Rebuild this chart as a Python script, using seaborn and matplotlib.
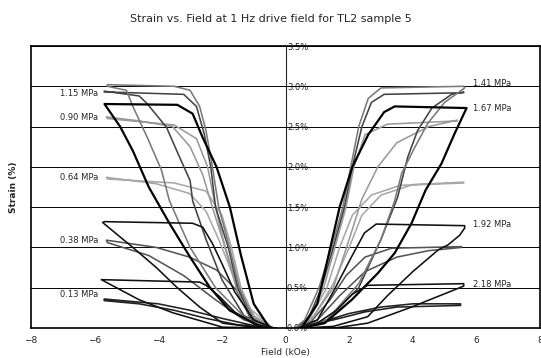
import matplotlib
matplotlib.use('Agg')
import matplotlib.pyplot as plt
import seaborn as sns
import pandas as pd
from matplotlib.ticker import FuncFormatter

# Stress levels (MPa) and the hysteresis loops.
# Each loop: rising branch from the origin to the corner, then the return branch.
stresses = ['0.13', '0.38', '0.64', '0.90', '1.15', '1.41', '1.67', '1.92', '2.18']

loop_013_left = [(-0.3, 0), (-1.5, 0.04), (-2.5, 0.12), (-3.5, 0.22), (-4.6, 0.3), (-5.7, 0.34),
                 (-5.7, 0.36), (-4.0, 0.3), (-3.0, 0.22), (-2.0, 0.12), (-1.0, 0.03), (-0.3, 0)]
loop_013_right = [(0.3, 0), (1.5, 0.1), (2.5, 0.2), (3.5, 0.26), (5.5, 0.28),
                  (5.5, 0.3), (4.0, 0.3), (3.0, 0.26), (2.0, 0.18), (1.0, 0.06), (0.3, 0)]

loop_038_left = [(-0.4, 0), (-1.3, 0.1), (-2.2, 0.35), (-3.2, 0.65), (-4.3, 0.9), (-5.6, 1.06),
                 (-5.63, 1.09), (-4.06, 1.0), (-3.02, 0.88), (-2.17, 0.72), (-1.54, 0.47),
                 (-1.13, 0.14), (-0.4, 0)]
loop_038_right = [(0.3, 0), (1.0, 0.1), (1.7, 0.4), (2.5, 0.7), (3.5, 0.88), (4.5, 0.96), (5.53, 1.0),
                  (5.53, 1.01), (3.33, 0.99), (2.5, 0.88), (1.9, 0.65), (1.4, 0.35), (0.8, 0.08), (0.3, 0)]

loop_064_left = [(-0.4, 0), (-1.0, 0.15), (-1.4, 0.5), (-1.7, 1.0), (-2.0, 1.4), (-2.5, 1.7), (-3.5, 1.8),
                 (-5.6, 1.85), (-5.63, 1.87), (-4.06, 1.79), (-3.02, 1.67), (-2.5, 1.45), (-2.1, 1.1),
                 (-1.7, 0.7), (-1.3, 0.3), (-0.4, 0)]
loop_064_right = [(0.3, 0), (0.8, 0.15), (1.3, 0.5), (1.7, 1.0), (2.1, 1.4), (2.7, 1.65), (3.6, 1.77),
                  (5.6, 1.8), (5.6, 1.81), (4.0, 1.78), (3.0, 1.65), (2.4, 1.4), (2.0, 1.0), (1.5, 0.55),
                  (0.9, 0.15), (0.3, 0)]

loop_090_left = [(-0.4, 0), (-1.1, 0.15), (-1.55, 0.5), (-1.9, 1.0), (-2.2, 1.5), (-2.45, 2.0),
                 (-2.8, 2.35), (-3.5, 2.52), (-5.6, 2.6), (-5.63, 2.62), (-4.6, 2.57), (-3.55, 2.5),
                 (-3.0, 2.25), (-2.6, 1.9), (-2.3, 1.5), (-1.9, 1.0), (-1.5, 0.5), (-1.0, 0.15), (-0.4, 0)]
loop_090_right = [(0.3, 0), (0.8, 0.15), (1.2, 0.5), (1.55, 1.0), (1.9, 1.5), (2.15, 2.0), (2.5, 2.4),
                  (3.2, 2.53), (5.4, 2.57), (5.4, 2.58), (4.5, 2.5), (3.5, 2.3), (2.9, 2.0), (2.4, 1.6),
                  (2.0, 1.1), (1.5, 0.5), (0.8, 0.1), (0.3, 0)]

loop_115_left = [(-0.4, 0), (-1.05, 0.1), (-1.5, 0.5), (-1.8, 1.0), (-2.2, 1.5), (-2.35, 2.0),
                 (-2.55, 2.4), (-2.8, 2.75), (-3.2, 2.9), (-5.7, 2.93), (-5.7, 2.94), (-4.6, 2.88),
                 (-4.34, 2.78), (-3.74, 2.49), (-3.33, 2.12), (-3.0, 1.83), (-2.92, 1.58), (-2.5, 1.1),
                 (-2.0, 0.6), (-1.3, 0.15), (-0.4, 0)]
loop_115_right = [(0.3, 0), (0.7, 0.1), (1.13, 0.5), (1.5, 1.0), (1.85, 1.5), (2.1, 2.0), (2.4, 2.5),
                  (2.7, 2.8), (3.1, 2.9), (5.6, 2.92), (5.6, 2.93), (5.22, 2.9), (4.6, 2.73), (4.15, 2.45),
                  (3.84, 2.12), (3.52, 1.62), (3.0, 1.1), (2.3, 0.5), (1.3, 0.1), (0.3, 0)]

loop_141_left = [(-0.4, 0), (-1.0, 0.1), (-1.45, 0.5), (-1.76, 1.0), (-2.1, 1.5), (-2.3, 2.0),
                 (-2.5, 2.45), (-2.7, 2.75), (-3.0, 2.95), (-3.5, 3.0), (-5.6, 3.02), (-5.6, 3.0),
                 (-5.0, 2.95), (-4.81, 2.76), (-4.34, 2.36), (-3.9, 1.96), (-3.65, 1.58), (-3.0, 1.0),
                 (-2.2, 0.5), (-1.2, 0.1), (-0.4, 0)]
loop_141_right = [(0.3, 0), (0.6, 0.1), (1.05, 0.5), (1.45, 1.0), (1.8, 1.5), (2.05, 2.0), (2.3, 2.5),
                  (2.6, 2.85), (3.0, 2.98), (5.6, 3.0), (5.63, 2.98), (5.0, 2.8), (4.47, 2.54),
                  (4.06, 2.24), (3.65, 1.92), (3.43, 1.58), (3.0, 1.1), (2.3, 0.55), (1.3, 0.1), (0.3, 0)]

loop_167_left = [(-0.5, 0), (-1.0, 0.3), (-1.4, 0.9), (-1.75, 1.5), (-2.17, 2.0), (-2.6, 2.36),
                 (-2.92, 2.66), (-3.4, 2.77), (-5.69, 2.78), (-5.2, 2.5), (-4.8, 2.2), (-4.3, 1.75),
                 (-3.65, 1.3), (-3.0, 0.88), (-2.39, 0.51), (-1.76, 0.22), (-0.8, 0.02)]
loop_167_right = [(0.5, 0), (1.0, 0.3), (1.35, 0.9), (1.7, 1.5), (2.1, 2.0), (2.6, 2.4), (3.1, 2.68),
                  (3.43, 2.75), (5.69, 2.73), (5.31, 2.41), (4.9, 2.04), (4.4, 1.71), (3.96, 1.3),
                  (3.43, 0.93), (2.9, 0.68), (2.08, 0.35), (1.23, 0.06), (0.5, 0)]

loop_192_left = [(-0.4, 0), (-1.0, 0.1), (-1.6, 0.45), (-2.0, 0.8), (-2.3, 1.05), (-2.6, 1.25),
                 (-2.92, 1.3), (-5.69, 1.32), (-5.75, 1.31), (-4.8, 1.0), (-4.06, 0.75), (-3.43, 0.51),
                 (-2.7, 0.26), (-1.98, 0.06), (-0.8, 0)]
loop_192_right = [(0.4, 0), (1.0, 0.1), (1.5, 0.45), (2.07, 0.88), (2.48, 1.18), (2.85, 1.29),
                  (5.63, 1.27), (5.63, 1.24), (5.47, 1.15), (5.1, 1.03), (4.8, 0.97), (4.0, 0.7),
                  (3.2, 0.4), (2.58, 0.14), (1.5, 0.02), (0.5, 0)]

loop_218_left = [(-0.4, 0), (-1.0, 0.05), (-1.6, 0.2), (-2.1, 0.4), (-2.5, 0.53), (-2.7, 0.57),
                 (-5.79, 0.6), (-4.6, 0.35), (-3.55, 0.19), (-1.98, 0.01), (-0.5, 0)]
loop_218_right = [(0.4, 0), (1.0, 0.06), (1.6, 0.22), (2.1, 0.42), (2.58, 0.53), (5.6, 0.55),
                  (5.6, 0.52), (3.96, 0.26), (2.58, 0.06), (1.54, 0.0), (0.4, 0)]

loops = {
    '0.13': (loop_013_left, loop_013_right),
    '0.38': (loop_038_left, loop_038_right),
    '0.64': (loop_064_left, loop_064_right),
    '0.90': (loop_090_left, loop_090_right),
    '1.15': (loop_115_left, loop_115_right),
    '1.41': (loop_141_left, loop_141_right),
    '1.67': (loop_167_left, loop_167_right),
    '1.92': (loop_192_left, loop_192_right),
    '2.18': (loop_218_left, loop_218_right),
}

# grey levels of the scanned curves
colors = {'0.13': '#222222', '0.38': '#555555', '0.64': '#a8a8a8', '0.90': '#9a9a9a',
          '1.15': '#444444', '1.41': '#7a7a7a', '1.67': '#000000', '1.92': '#111111',
          '2.18': '#111111'}
widths = {s: 1.15 for s in stresses}
widths['1.67'] = 1.6

# label anchors (strain) on the left / right side
left_labels = {'1.15': 2.91, '0.90': 2.61, '0.64': 1.87, '0.38': 1.09, '0.13': 0.41}
right_labels = {'1.41': 3.03, '1.67': 2.73, '1.92': 1.29, '2.18': 0.54}

rows = []
for s in stresses:
    for side, pts in zip(['L', 'R'], loops[s]):
        for i, (h, e) in enumerate(pts):
            rows.append({'stress': s, 'side': side, 'order': i, 'field': h, 'strain': e})
df = pd.DataFrame(rows)

sns.set_style('white')
plt.rcParams['font.family'] = ['DejaVu Sans']

fig = plt.figure(figsize=(5.41, 3.58), dpi=100)
ax = fig.add_axes([0.0573, 0.0838, 0.941, 0.7877])

for s in stresses:
    for side in ['L', 'R']:
        sub = df[(df['stress'] == s) & (df['side'] == side)]
        sns.lineplot(data=sub, x='field', y='strain', sort=False, estimator=None,
                     color=colors[s], lw=widths[s], ax=ax, legend=False)

ax.set_xlim(-8, 8)
ax.set_ylim(0, 3.5)
ax.set_xticks(range(-8, 9, 2))
ax.set_yticks([0, 0.5, 1.0, 1.5, 2.0, 2.5, 3.0, 3.5])
ax.set_yticklabels([])
ax.tick_params(axis='x', labelsize=6.5, length=2, pad=4)
ax.tick_params(axis='y', length=2, direction='in')
ax.yaxis.grid(True, color='black', lw=0.7)
ax.xaxis.grid(False)
for sp in ax.spines.values():
    sp.set_color('black')
    sp.set_linewidth(1.2)

# y tick labels sit on the vertical axis through zero field
sec = ax.secondary_yaxis(0.5)
sec.set_yticks([0, 0.5, 1.0, 1.5, 2.0, 2.5, 3.0, 3.5])
sec.yaxis.set_major_formatter(FuncFormatter(lambda v, p: f'{v:.1f}%'))
sec.tick_params(length=0, pad=1, labelsize=6)
sec.spines['left'].set_linewidth(0.8)

for s, y in left_labels.items():
    ax.text(-7.1, y, f'{s} MPa', fontsize=6, va='center', ha='left')
for s, y in right_labels.items():
    ax.text(5.88, y, f'{s} MPa', fontsize=6, va='center', ha='left')

ax.set_xlabel('Field (kOe)', fontsize=6.5, labelpad=2)
ax.set_ylabel('Strain (%)', fontsize=6.5, fontweight='bold', labelpad=6)
fig.suptitle('Strain vs. Field at 1 Hz drive field for TL2 sample 5', fontsize=8, y=0.96)

fig.savefig('out.png', dpi=100)
